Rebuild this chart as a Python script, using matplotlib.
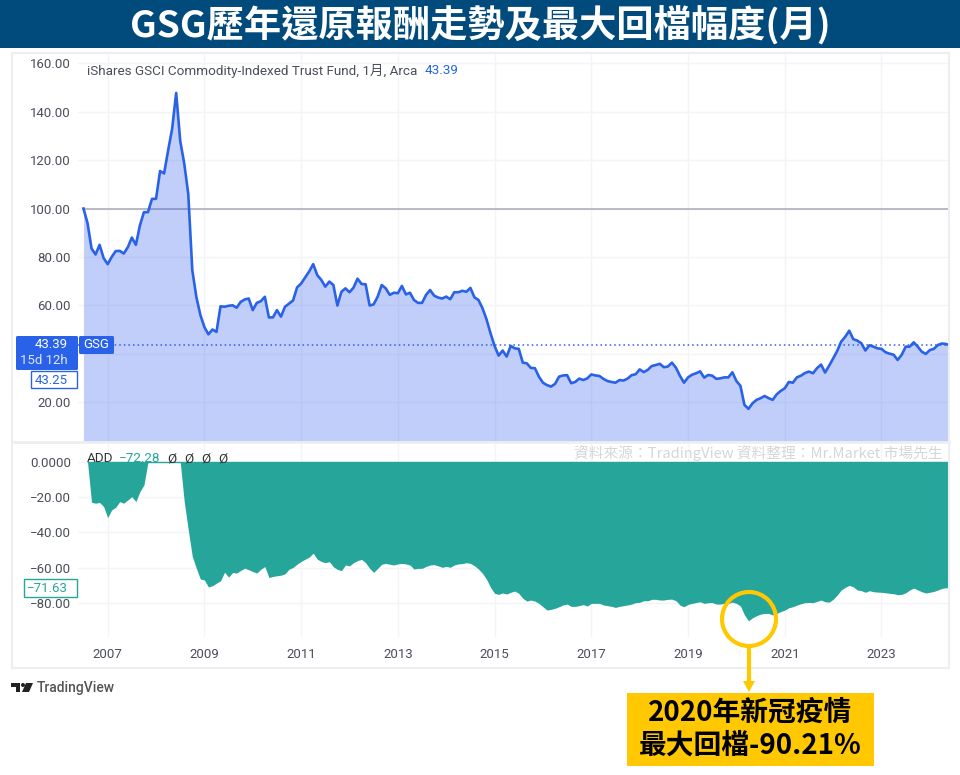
import numpy as np
import matplotlib
matplotlib.use('Agg')
import matplotlib.pyplot as plt
from matplotlib.patches import Rectangle, Circle, FancyBboxPatch

plt.rcParams['font.family'] = ['Roboto', 'Noto Sans CJK TC', 'DejaVu Sans']

# monthly values from Jul 2006
gsg = [100, 94, 83.5, 81, 85, 79.5, 77, 80, 82.4, 82.5, 81.4, 84, 88, 85, 93, 98.5, 98.5, 104, 104, 115.5,
       114.5, 124, 133, 147.8, 128, 118.6, 106, 74.5, 63.5, 56, 51, 48, 50, 49, 59.6, 59.4, 59.8, 60, 59, 61.4,
       62.4, 62.8, 58, 61, 61.7, 63.5, 55, 55, 58, 55.3, 59.4, 60.7, 62, 67.4, 69, 71.5, 74, 77, 72.5, 70.5,
       67.7, 69.8, 68.4, 59.9, 65.6, 67, 65.4, 67.3, 71, 68.8, 68.7, 59.9, 60.4, 63.6, 68.4, 67, 64.3, 65.2, 65, 68,
       64.5, 65.2, 62.2, 61, 61, 64.3, 66.3, 64, 63.2, 62.8, 63.6, 62.5, 65.4, 65.4, 66, 65.6, 67.2, 63.3, 62.2, 58.8,
       54.2, 48.4, 43.2, 39.2, 41.3, 38.8, 43.2, 42.2, 42, 36.3, 36, 34.1, 34, 30.5, 28, 27, 26.4, 27.5, 30.5, 31,
       31.1, 27.8, 28.3, 29.7, 29.1, 29.8, 31.4, 31, 30.8, 29.6, 28.7, 28.3, 28, 29.1, 28.9, 29.7, 31.1, 31.5, 33.5, 32.4,
       33.3, 34.9, 35.3, 35.8, 34.4, 34.7, 36.3, 34.2, 30.8, 28, 30.2, 31.3, 31.9, 32.7, 30.1, 31.2, 30.9, 29.6, 29.8, 30.2,
       30.2, 32.3, 28.7, 26.7, 18.8, 17.2, 19.5, 20.9, 21.6, 22.5, 21.6, 20.9, 23.2, 24.6, 25.7, 28.3, 28, 30.2, 30.9, 32,
       32.6, 31.9, 34, 35.5, 32.2, 35, 38, 41.1, 45, 47, 49.5, 46, 45.4, 44.3, 41.3, 43.5, 42.9, 42.2, 42, 40.6,
       40, 39.6, 37.4, 39.5, 42.9, 42.9, 44.7, 42.9, 40.8, 39.9, 41.5, 42, 43.6, 44.2, 44, 43.39]
add = [0, 0, -22.9, -23.4, -23, -25.3, -31.6, -27.2, -25.7, -22.5, -23.4, -21.5, -19.7, -22.5, -16.8, -13, 0, 0, 0, 0,
       0, 0, 0, 0, 0, -22.5, -38.6, -53.7, -60.3, -66.5, -67, -71, -70.3, -68.8, -67.5, -62.6, -65.4, -62.8, -63.1, -61.6,
       -60.3, -61.2, -62.2, -63.1, -60.9, -59.4, -65.6, -65, -64.6, -64.3, -63.5, -60.9, -59.9, -58, -56.5, -55.2, -54, -51.8, -55.2, -56.5,
       -57.2, -56.6, -59.5, -61, -61.7, -58.5, -59, -57.2, -56, -55.3, -57.2, -60.4, -62.7, -60.4, -58.1, -57.6, -58.1, -58.5, -57.9, -57.6,
       -57.9, -58.5, -60.8, -60.4, -60.4, -59.3, -58.5, -58.3, -59, -59.8, -59.3, -59.8, -58.5, -57.9, -57.7, -57.2, -57.6, -58.9, -60.8, -63.2,
       -66.6, -71.2, -74.6, -75.2, -74.4, -75, -74, -73.3, -74.6, -77.4, -79, -78.4, -79, -80.3, -82.2, -84.1, -83.7, -83.1, -82.2, -81.2,
       -80.7, -82, -82, -81.6, -81, -81.8, -80.3, -80.3, -80.3, -81.2, -81.6, -82, -82.6, -82, -81.6, -81.2, -80.7, -79.9, -79.7, -78.8,
       -78.8, -78, -78, -78.4, -78.4, -78, -77.9, -78.8, -81.3, -82.2, -80.9, -80.3, -79.8, -79.4, -80.3, -79.9, -79.8, -80.7, -80.7, -80.3,
       -80.3, -79.6, -80.3, -81.8, -86.9, -90.21, -88.5, -87.3, -86.4, -86, -86, -86.9, -86, -85, -84.1, -82.8, -82.2, -81.3, -80.5, -79.9,
       -79.8, -79.9, -79.2, -78.4, -79.4, -79.6, -78, -75.6, -72.7, -71.2, -70.1, -70.9, -72.7, -73.1, -74, -73.1, -73.7, -73.9, -74, -74.3,
       -74.6, -74.8, -75.4, -75.2, -74.3, -72.7, -71.6, -72.7, -73.7, -74.4, -74, -73.5, -72.7, -71.8, -71.4, -71.63]

year_labels = ['2007', '2009', '2011', '2013', '2015', '2017', '2019', '2021', '2023']
year_pos = [6, 30, 54, 78, 102, 126, 150, 174, 198]
price_ticks = [20, 40, 60, 80, 100, 120, 140, 160]
price_labels = ['20.00', '', '60.00', '80.00', '100.00', '120.00', '140.00', '160.00']
add_ticks = [0, -20, -40, -60, -80]
add_labels = ['0.0000', '−20.00', '−40.00', '−60.00', '−80.00']

x = np.arange(len(gsg))
W, H = 960, 775
BLUE = '#2962e8'
GREEN = '#26a69a'
GOLD = '#ffc800'
GRID = '#f3f4f8'
TICK = '#4a4e58'
CJK = ['Noto Sans CJK TC', 'DejaVu Sans']


def px_axes(left, top, right, bottom):
    return fig.add_axes([left / W, 1 - bottom / H, (right - left) / W, (bottom - top) / H])


fig = plt.figure(figsize=(9.6, 7.75), dpi=100)

# top pane
ax1 = px_axes(78, 53, 948, 441)
ax1.fill_between(x, gsg, 0, color='#2350f0', alpha=0.28, lw=0, zorder=2)
ax1.plot(x, gsg, color=BLUE, lw=1.9, zorder=3)
ax1.plot([x[0], x[-1]], [100, 100], color='#a6a9b2', lw=1.1, zorder=1)
ax1.axhline(43.39, color=BLUE, lw=1.1, ls=(0, (1, 2)), zorder=4)
ax1.set_xlim(-1.36, 214.5)
ax1.set_ylim(3.9, 164.3)
ax1.set_yticks(price_ticks)
ax1.set_yticklabels(price_labels)
ax1.set_xticks(year_pos)
ax1.set_xticklabels([])

# bottom pane
ax2 = px_axes(78, 443, 948, 637)
ax2.fill_between(x[1:], add[1:], 0, color=GREEN, lw=0, zorder=2)
ax2.plot([x[1], x[-1]], [0, 0], color=GREEN, lw=1.0, zorder=2)
ax2.set_xlim(-1.36, 214.5)
ax2.set_ylim(-99.4, 10.8)
ax2.set_yticks(add_ticks)
ax2.set_yticklabels(add_labels)
ax2.set_xticks(year_pos)
ax2.set_xticklabels(year_labels)

for ax in (ax1, ax2):
    for s in ax.spines.values():
        s.set_visible(False)
    ax.grid(True, color=GRID, lw=1.0, zorder=0)
    ax.set_axisbelow(True)
    ax.tick_params(length=0, labelsize=9.5, labelcolor=TICK, axis='both')
    ax.tick_params(axis='y', pad=5)
ax2.tick_params(axis='x', pad=8)

# overlay in picture pixels for frame, labels and callout
ov = fig.add_axes([0, 0, 1, 1], zorder=10)
ov.set_xlim(0, W)
ov.set_ylim(H, 0)
ov.axis('off')
ov.patch.set_alpha(0)

ov.add_patch(Rectangle((0, 0), W, 48, fc='#004a7c', ec='none'))
ov.text(480, 26, 'GSG歷年還原報酬走勢及最大回檔幅度(月)', color='white', fontsize=26.8, fontweight='bold',
        ha='center', va='center', family=CJK)

ov.add_patch(Rectangle((11.5, 52.5), 937, 615, fc='none', ec='#eceef3', lw=1.5))
ov.plot([12, 949], [442, 442], color='#eceef2', lw=2)

ov.text(87, 71, 'iShares GSCI Commodity-Indexed Trust Fund, 1月, Arca', fontsize=9.7, color=TICK, va='center')
ov.text(425, 71, '43.39', fontsize=9.7, color=BLUE, va='center')

ov.add_patch(FancyBboxPatch((16, 336), 62, 34, boxstyle='round,pad=0,rounding_size=1.5', fc=BLUE, ec='none'))
ov.add_patch(FancyBboxPatch((79, 336), 35, 18, boxstyle='round,pad=0,rounding_size=1.5', fc=BLUE, ec='none'))
ov.text(68, 345, '43.39', color='white', fontsize=9.5, ha='right', va='center')
ov.text(68, 361, '15d 12h', color='#dfe6ff', fontsize=9.5, ha='right', va='center')
ov.text(83, 345, 'GSG', color='white', fontsize=9.5, va='center')
ov.add_patch(Rectangle((31, 371), 46, 17, fc='white', ec=BLUE, lw=1))
ov.text(68, 380, '43.25', color=BLUE, fontsize=9.5, ha='right', va='center')

ov.add_patch(Rectangle((24, 579), 53, 18, fc='white', ec=GREEN, lw=1))
ov.text(68, 588, '−71.63', color=GREEN, fontsize=9.5, ha='right', va='center')

ov.text(87, 459, 'ADD', fontsize=9.7, color='#333', va='center')
ov.text(119, 459, '−72.28', fontsize=9.7, color=GREEN, va='center')
for px in (172, 189, 206, 223):
    ov.text(px, 459, 'Ø', fontsize=9.7, color='#333', ha='center', va='center')

ov.text(943, 453, '資料來源\uff1aTradingView 資料整理\uff1aMr.Market 市場先生', fontsize=10.6, color='#d4d6da',
        ha='right', va='center', family=CJK)

# TradingView mark
ov.add_patch(Rectangle((11, 683), 9, 4, fc='#222', ec='none'))
ov.add_patch(Rectangle((16, 683), 4, 9, fc='#222', ec='none'))
ov.add_patch(Circle((23, 685), 2, fc='#222', ec='none'))
ov.fill([26, 33, 29, 22], [683, 683, 692, 692], fc='#222', ec='none')
ov.text(37, 688, 'TradingView', fontsize=10, color='#555', va='center', fontweight='medium')

# callout
ov.add_patch(Circle((749, 619), 27, fc='none', ec=GOLD, lw=3))
ov.plot([749, 749], [646, 682], color=GOLD, lw=3, solid_capstyle='butt')
ov.fill([743, 755, 749], [681, 681, 692], fc=GOLD, ec='none')
ov.add_patch(Rectangle((627, 693), 247, 73, fc=GOLD, ec='none'))
ov.text(750, 713, '2020年新冠疫情', color='black', fontsize=20, fontweight='bold', ha='center', va='center', family=CJK)
ov.text(750, 746, '最大回檔-90.21%', color='black', fontsize=20, fontweight='bold', ha='center', va='center', family=CJK)

fig.savefig('out.png', dpi=100)
